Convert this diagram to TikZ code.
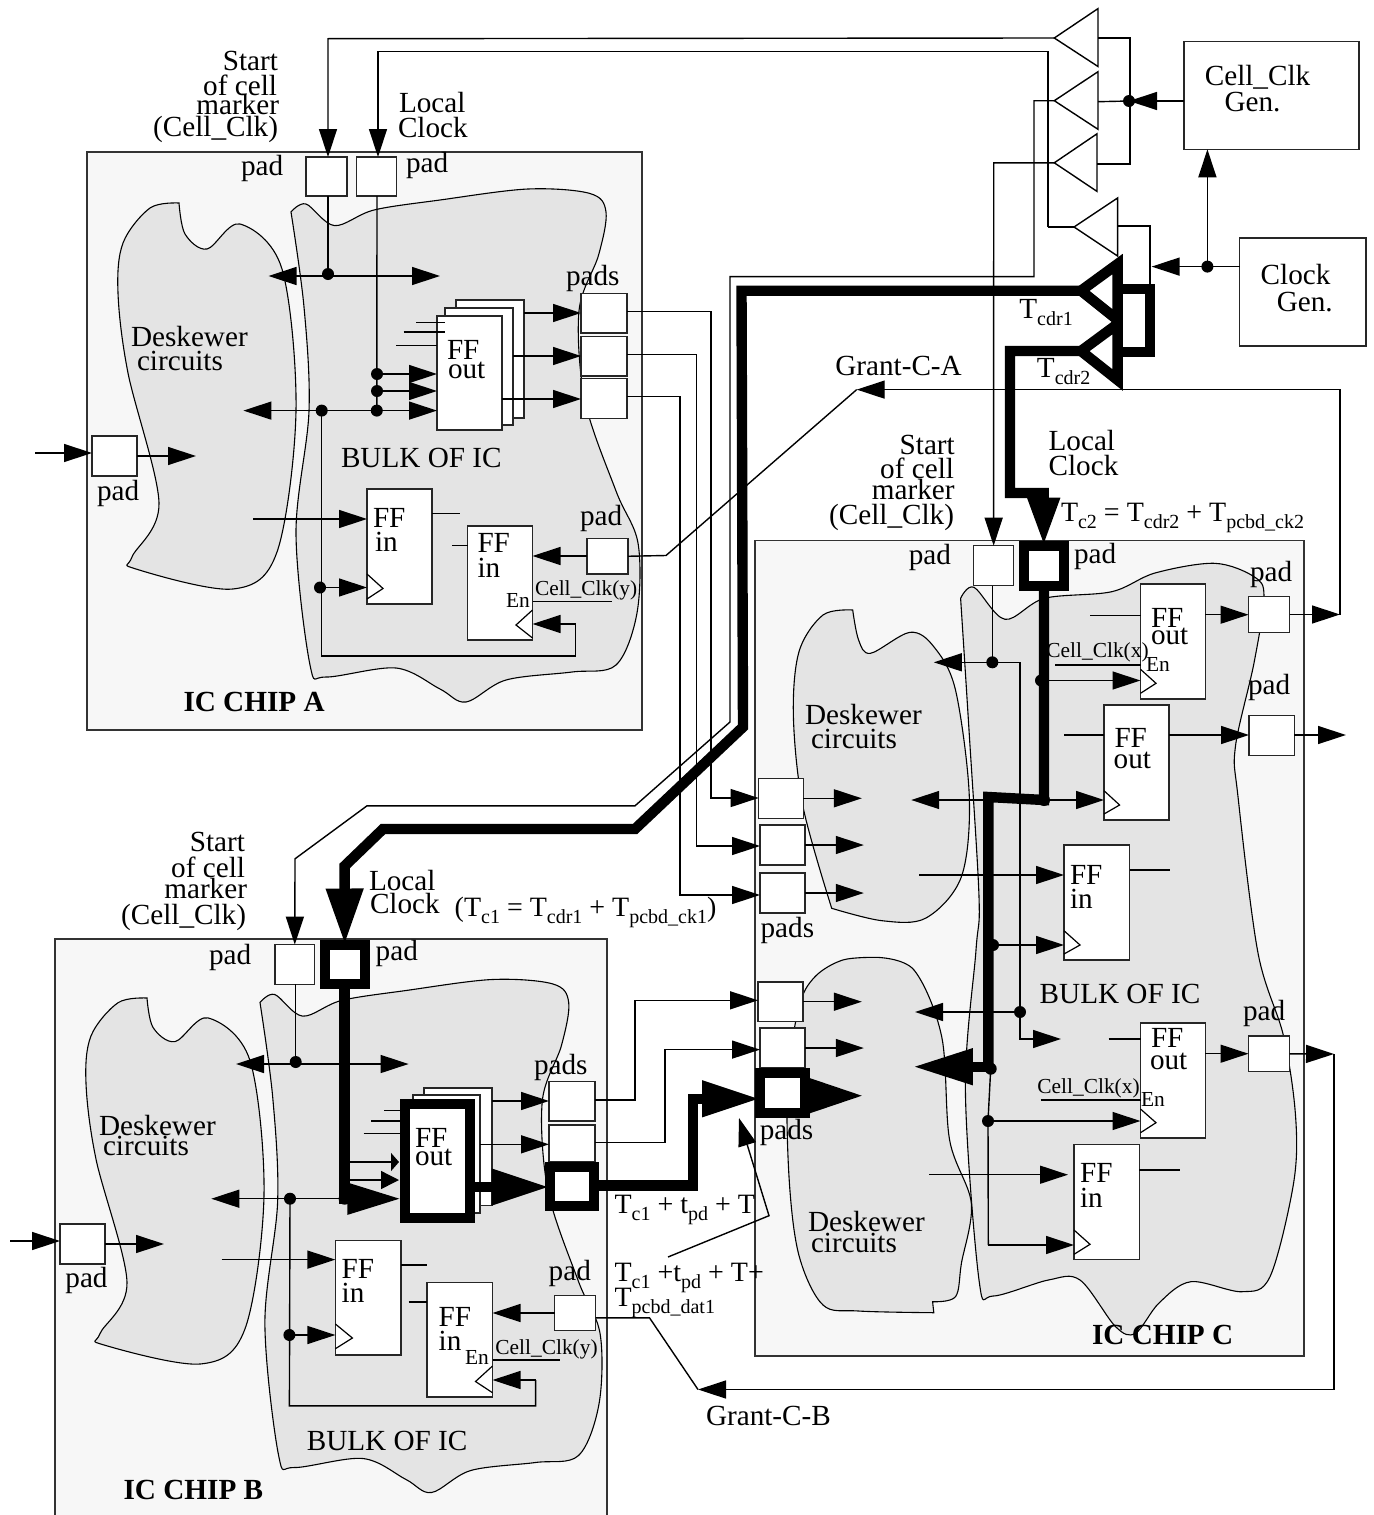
\documentclass[tikz,border=0pt]{standalone}
\usepackage{fontspec}
\setmainfont{Liberation Serif}
\usetikzlibrary{arrows.meta}
\definecolor{chipfill}{HTML}{F7F7F7}
\definecolor{blobfill}{HTML}{E4E4E4}
\newcommand\sbs[1]{\raisebox{-3.5pt}{\fontsize{10}{10}\selectfont #1}}
\newcommand\bx[6][boxst]{%
  \pgfmathsetmacro{\bw}{(#5-#3)*.5}\pgfmathsetmacro{\bh}{(#6-#4)*.5}%
  \node[#1,minimum width=\bw pt,minimum height=\bh pt] (#2) at ({(#3+#5)/2},{(#4+#6)/2}) {};}
\newcount\tcnt
\newcommand\lb[4]{\global\advance\tcnt 1 \node[txt,anchor=#1] (t\the\tcnt) at (#2,#3) {#4};}
\newcommand\lf[4]{\global\advance\tcnt 1 \node[txtf,anchor=#1] (t\the\tcnt) at (#2,#3) {#4};}
\newcommand\ls[4]{\global\advance\tcnt 1 \node[txts,anchor=#1] (t\the\tcnt) at (#2,#3) {#4};}
\newcommand\dt[3]{\node[dotst] (#1) at (#2,#3) {};}
\newcommand\cc[3]{\coordinate (#1) at (#2,#3);}
\newcommand\deskA{\draw[blob] plot[smooth,tension=.55] coordinates {(179,203)(150,208)(123,243)(118,293)(128,373)(159,503)(132,557)(136,569)(233,589)(277,552)(296,411)(282,269)(240,224)(207,249)(185,234)(179,203)} -- cycle;}
\newcommand\bulkA{\draw[blob] plot[smooth,tension=.55] coordinates {(291,212)(306,204)(334.5,225.6)(374,210)(440,200)(528,189)(590,193.5)(606,212)(598.6,255)(579,311)(585,401)(616,491)(638,543)(637,613)(616,665)(572,672)(506,680)(466,702)(440,689)(396,668)(326,677)(310,665)(296,533)(309,411)(304,307)(291,212)} -- cycle;}
\tikzset{
  chip/.style={fill=chipfill,draw=black!80,line width=.7pt},
  blob/.style={fill=blobfill,draw=black,line width=.55pt},
  boxst/.style={draw=black!85,fill=white,line width=.75pt,inner sep=0pt,outer sep=0pt,rectangle},
  thickbox/.style={boxst,draw=black,line width=5pt},
  dotst/.style={circle,fill=black,inner sep=0pt,minimum size=6pt},
  txt/.style={inner sep=0pt,outer sep=0pt,font=\fontsize{14.6}{15}\selectfont},
  txtf/.style={inner sep=0pt,outer sep=0pt,font=\fontsize{14}{15}\selectfont},
  txts/.style={inner sep=0pt,outer sep=0pt,font=\fontsize{10.7}{11}\selectfont},
  wire/.style={line width=.7pt,draw=black},
  arr/.style={wire,-{Triangle[length=14pt,width=9pt]}},
  darr/.style={wire,{Triangle[length=14pt,width=9pt]}-{Triangle[length=14pt,width=9pt]}},
  fat/.style={line width=5.2pt,draw=black,line join=miter},
  tri/.style={line width=.7pt,draw=black,line join=miter},
  ck/.style={line width=.6pt,draw=black},
}
\begin{document}
\begin{tikzpicture}[x=.5pt,y=-.5pt]
\useasboundingbox (0,0) rectangle (1374,1515);
% chips
\draw[chip] (87,152) rectangle (642,730);
\fill[chipfill] (55,939) rectangle (607,1515);
\draw[wire,draw=black!80] (55,1515) -- (55,939) -- (607,939) -- (607,1515);
\draw[chip] (755,540.7) rectangle (1304,1356);
% blobs
\deskA \bulkA
\begin{scope}[shift={(-32,998)},yscale=.948,shift={(0,-203)}]\deskA\end{scope}
\begin{scope}[shift={(260,1002.5)},xscale=.98,shift={(-291,-212)}]\bulkA\end{scope}
\draw[blob] plot[smooth,tension=.55] coordinates {(960.6,598.3)(974,587.3)(1005,619.3)(1044.5,598.3)(1111.7,591.7)(1155,573)(1214.5,563.3)(1254,576.7)(1264,596.7)(1254,663)(1235.4,746.7)(1238,796.7)(1258,953)(1283.7,1036.7)(1295.6,1116.7)(1293.6,1183)(1270,1276.7)(1242,1291.7)(1190.8,1281.7)(1159,1303)(1135.4,1333.3)(1115.6,1326.7)(1080,1280)(1048.4,1280)(993,1296)(979,1280)(965.4,1090)(976,950)(979,896.7)(969,730)(960.6,598.3)} -- cycle;
\draw[blob] plot[smooth,tension=.55] coordinates {(852.7,610)(823,615)(799,651.7)(793.4,716.7)(803,806.7)(831.7,908.3)} -- plot[smooth,tension=.55] coordinates {(831.7,908.3)(882,920.7)(926,918)(961.4,876.7)(969.3,796.7)(955.5,690)(933.8,646.7)(910,632.3)(870.5,653.3)(858.6,640)(852.7,610)} -- cycle;
\draw[blob] plot[smooth,tension=.55] coordinates {(876.4,957.3)(842.8,960)(815,976.7)(799,1006.7)(787.5,1083)(789.4,1183)(799.3,1256.7)(823,1305)(858.6,1311)(933.8,1312.7)} -- (932.6,1301.7) -- plot[smooth,tension=.55] coordinates {(932.6,1301.7)(955.5,1296.7)(961.4,1263.3)(971.3,1203.3)(949.6,1140)(941.7,1036.7)(914,970)(876.4,957.3)} -- cycle;

% ---------- boxes: generators
\bx{cellgen}{1184}{41.4}{1359}{149.3}
\bx{clockgen}{1239.7}{238}{1366}{346}
% ---------- chip A nodes
\bx{paA1}{306}{157}{347}{196}
\bx{paA2}{356.5}{157}{396.5}{196}
\bx{paR1}{581}{293.5}{627}{333}
\bx{paR2}{581}{336.5}{627}{376}
\bx{paR3}{581}{378.5}{627}{418.6}
\bx{paL}{92}{436}{137}{476}
\bx{paB}{587}{538.5}{628}{574}
\bx{ffA3}{456}{300}{524}{418}
\bx{ffA2}{445}{308}{513}{425}
\bx{ffA1}{437}{316}{502}{430}
\bx{ffAi}{367}{489}{432}{604}
\bx{ffAj}{467.5}{526}{532.5}{640}
% ---------- chip B nodes
\bx{pbA1}{275}{944.6}{314.6}{984.4}
\bx[thickbox]{pbA2}{325}{944.5}{364.5}{983.5}
\bx{pbR1}{549}{1081.5}{595}{1121}
\bx{pbR2}{549}{1125}{595}{1162}
\bx{pbL}{60}{1224}{105}{1264}
\bx{pbB}{554.5}{1295.7}{595.7}{1330.4}
\bx{ffB3}{424}{1088}{492}{1205.7}
\bx{ffB2}{413}{1095}{480}{1213}
\bx[thickbox]{ffB1}{404.5}{1104}{469.5}{1218}
\bx[thickbox]{pbR3}{549.5}{1166.7}{594}{1206}
\bx{ffBi}{335.4}{1240.4}{401}{1355}
\bx{ffBj}{427}{1282.6}{492.5}{1397}
% ---------- chip C nodes
\bx{pcA1}{973.7}{545.7}{1013.6}{585.7}
\bx[thickbox]{pcA2}{1023.7}{545.7}{1063.8}{585.8}
\bx{pcO1}{1248.5}{596.7}{1289.6}{632.3}
\bx{pcO2}{1249}{715.3}{1294.4}{755.3}
\bx{pcO3}{1248.5}{1036}{1289.6}{1071.7}
\bx{pcI1}{758.6}{778.7}{803.3}{818.7}
\bx{pcI2}{760}{825}{805}{865}
\bx{pcI3}{760}{873}{805}{913}
\bx{pcI4}{758}{982}{803}{1021.7}
\bx{pcI5}{760}{1028}{805}{1068}
\bx[thickbox]{pcI6}{760}{1072.7}{805}{1112.7}
\bx{ffC1}{1140.5}{584}{1205.4}{699}
\bx{ffC2}{1104}{705}{1169}{820}
\bx{ffC3}{1064}{845}{1129.5}{960}
\bx{ffC4}{1140.5}{1023}{1205.4}{1138}
\bx{ffC5}{1074}{1144.7}{1139.4}{1259.7}
% ---------- dots
\dt{dA1}{328}{274}\dt{dA2}{377}{374}\dt{dA3}{377}{391}\dt{dA4}{376.8}{410.6}\dt{dA5}{321.7}{410.6}\dt{dA6}{320}{587.5}
\dt{dB1}{295.7}{1062}\dt{dB2}{290}{1198.7}\dt{dB3}{289.4}{1335}\dt{dB4}{344.6}{1198.7}
\dt{dC1}{992.3}{662.3}\dt{dC2}{1041}{680.5}\dt{dC3}{1044}{800}\dt{dC4}{993}{945}\dt{dC5}{1020}{1012}\dt{dC6}{990.7}{1068.7}\dt{dC7}{988}{1121}
\dt{dG1}{1129}{101}\dt{dG2}{1207.4}{266.6}
% ---------- triangles
\cc{t1}{1054.3}{38}\cc{t2}{1054.3}{100.7}\cc{t3}{1054.3}{162.8}\cc{t4}{1074}{227}
\cc{tT1}{1081}{290.7}\cc{tT2}{1081}{351}
\draw[tri] (t1) -- (1098,8.6) -- (1098,66.5) -- cycle;
\draw[tri] (t2) -- (1098,71.7) -- (1098,129.3) -- cycle;
\draw[tri] (t3) -- (1097,133.8) -- (1097,191.4) -- cycle;
\draw[tri] (t4) -- (1117.6,198) -- (1117.6,256) -- cycle;
\draw[fat] (tT1) -- (1117.6,264) -- (1117.6,320) -- cycle;
\draw[fat] (tT2) -- (1117.6,324) -- (1117.6,380) -- cycle;
% clock distribution
\draw[wire] (1098,38) -- (1130,38) -- (1130,164) -- (1097,164);
\draw[wire] (1098,101.7) -- (dG1.center);
\draw[arr] (cellgen.west |- dG1) -- (dG1.center);
\draw[arr] (clockgen.west |- dG2) -- (1151.6,266.6) coordinate (rail);
\draw[arr] (dG2.center) -- (dG2 |- cellgen.south);
\draw[wire] (1117.6,226) -- (1150,226) -- (1150,289);
\draw[fat,line cap=square] (1122,289) -- (1150,289) -- (1150,352) -- (1122,352);
% long feeders
\draw[arr] (t1) -- (328,38.7) -- (328,157 -| dA1);
\draw[arr] (1047.8,227) -- (1047.8,51.7) -- (378,51.7) -- (378,157);
\draw[wire] (t4) -- (1047.8,227);
\draw[arr] (t2) -- (1034,100.7) -- (1034,276.6) -- (730,276.6) -- (730,722) -- (635,805.8) -- (367,805.8) -- (295,858.8) -- (pbA1.north);
\draw[arr] (t3) -- (993.7,162.8) -- (pcA1.north);
\draw[fat,-{Triangle[length=28pt,width=17.5pt]}] (tT1) -- (741.5,290.7) -- (743,727) -- (635,829) -- (383,829) -- (344.6,866) -- (pbA2.north);
\draw[fat,-{Triangle[length=24pt,width=15pt]}] (tT2) -- (1010,351) -- (1010,493) -- (1043.7,493) -- (pcA2.north);
% grants
\cc{gca}{856.7}{389.6}\cc{gcb}{698}{1389.5}
\draw[arr] (pcO1.east) -- (1340,614.5);
\draw[arr] (1340,614.5) -- (1340,389.6) -- (gca);
\draw[wire] (gca) -- (666,555.5) -- (paB.east);
\draw[arr] (pcO3.east) -- (1334,1054);
\draw[arr] (1334,1054) -- (1334,1389.5) -- (gcb);
\draw[wire] (gcb) -- (649.5,1317.8) -- (pbB.east |- 0,1317.8);
% chip A wires
\draw[wire] (paA1.south -| dA1) -- (dA1.center);
\cc{aX1}{268.5}{276}\cc{aX2}{440}{276}\draw[darr] (aX1) -- (aX2);
\draw[wire] (paA2.south -| dA2) -- (dA4.center);
\draw[arr] (dA2.center) -- (ffA1.west |- dA2);
\draw[arr] (dA3.center) -- (ffA1.west |- dA3);
\cc{aX3}{243.4}{410.6}\draw[darr] (aX3) -- (ffA1.west |- aX3);
\draw[wire] (dA5.center) -- (321.7,656) -- (575.7,656) -- (575.7,624);
\draw[arr] (575.7,624) -- (ffAj.east |- 0,624);
\draw[arr] (dA6.center) -- (ffAi.west |- dA6);
\cc{aS1}{416}{322.3}\cc{aS2}{403.6}{332}\cc{aS3}{396}{345.4}
\draw[wire] (aS1) -- (ffA2.west |- aS1);\draw[wire] (aS2) -- (ffA2.west |- aS2);\draw[wire] (aS3) -- (ffA1.west |- aS3);
\draw[arr] (ffA3.east |- 0,313) -- (paR1.west |- 0,313);
\draw[arr] (ffA2.east |- 0,356) -- (paR2.west |- 0,356);
\draw[arr] (ffA1.east |- 0,399) -- (paR3.west |- 0,399);
\draw[arr] (paR1.east |- 0,311.5) -- (711,311.5) -- (711,798) -- (pcI1.west |- 0,798);
\draw[arr] (paR2.east |- 0,354.5) -- (696.5,354.5) -- (696.5,846) -- (pcI2.west |- 0,846);
\draw[arr] (paR3.east |- 0,396.5) -- (680,396.5) -- (680,895) -- (pcI3.west |- 0,895);
\cc{aI}{35}{453}\cc{aO}{196}{456}
\draw[arr] (aI) -- (paL.west |- aI);
\draw[arr] (paL.east |- aO) -- (aO);
\draw[arr] (paB.west |- 0,556) -- (ffAj.east |- 0,556);
\cc{aF}{253}{519}\draw[arr] (aF) -- (ffAi.west |- aF);
\cc{aG}{460}{513.5}\draw[wire] (ffAi.east |- aG) -- (aG);
\cc{aH}{452}{545.5}\draw[wire] (aH) -- (ffAj.west |- aH);
\draw[ck] (367,574) -- (383,588.5) -- (367,599);
\draw[ck] (532.5,610) -- (516,625) -- (532.5,638);
\cc{aU}{612}{601.7}\draw[wire] (ffAj.east |- aU) -- (aU);
% chip B wires
\draw[wire] (pbA1.south -| dB1) -- (dB1.center);
\cc{bX1}{236}{1064}\cc{bX2}{408.6}{1064}\draw[darr] (bX1) -- (bX2);
\draw[fat] (pbA2.south -| dB4) -- (344.6,1204);
\draw[wire,-{Triangle[length=4pt,width=9pt]}] (344.6,1162) -- (399,1162);
\draw[wire,-{Triangle[length=9pt,width=9pt]}] (344.6,1180) -- (399,1180);
\cc{bX3}{211.3}{1198.7}\draw[arr] (dB4.center) -- (bX3);
\draw[wire,-{Triangle[length=26pt,width=16pt]}] (dB4.center) -- (399.4,1198.7);
\draw[wire] (dB2.center) -- (289.4,1405.9) -- (535.6,1405.9) -- (535.6,1380);
\draw[arr] (535.6,1380) -- (ffBj.east |- 0,1380);
\draw[arr] (dB3.center) -- (ffBi.west |- dB3);
\cc{bS1}{384.4}{1110.5}\cc{bS2}{371.3}{1120.8}\cc{bS3}{363.5}{1133.5}
\draw[wire] (bS1) -- (ffB1.west |- bS1);\draw[wire] (bS2) -- (ffB1.west |- bS2);\draw[wire] (bS3) -- (ffB1.west |- bS3);
\draw[arr] (ffB3.east |- 0,1101) -- (pbR1.west |- 0,1101);
\draw[arr] (ffB2.east |- 0,1144.3) -- (pbR2.west |- 0,1144.3);
\draw[fat,-{Triangle[length=29pt,width=17pt]}] (ffB1.east |- 0,1187) -- (pbR3.west |- 0,1187);
\draw[arr] (pbR1.east |- 0,1100) -- (635,1100) -- (635,1000.3) -- (pcI4.west |- 0,1000.3);
\draw[arr] (pbR2.east |- 0,1142.4) -- (665,1142.4) -- (665,1049.6) -- (pcI5.west |- 0,1049.6);
\draw[fat,-{Triangle[length=29pt,width=17pt]}] (pbR3.east |- 0,1185.5) -- (693,1185.5) -- (693,1098.8) -- (pcI6.west |- 0,1098.8);
\cc{bI}{10}{1241}\cc{bO}{164}{1244}
\draw[arr] (bI) -- (pbL.west |- bI);
\draw[arr] (pbL.east |- bO) -- (bO);
\draw[arr] (pbB.west |- 0,1313) -- (ffBj.east |- 0,1313);
\cc{bF}{221.5}{1259.6}\draw[arr] (bF) -- (ffBi.west |- bF);
\cc{bG}{426.6}{1265}\draw[wire] (ffBi.east |- bG) -- (bG);
\cc{bH}{408.6}{1302}\draw[wire] (bH) -- (ffBj.west |- bH);
\draw[ck] (335.4,1324) -- (352.4,1338) -- (335.4,1348.7);
\draw[ck] (492.5,1366) -- (475.5,1381.5) -- (492.5,1392.7);
\cc{bU}{560.4}{1360}\draw[wire] (ffBj.east |- bU) -- (bU);
\cc{pS}{668}{1257}\cc{pT}{739}{1118}
\draw[arr] (pS) -- (769,1215.7) -- (pT);
% chip C wires
\draw[wire] (pcA1.south -| dC1) -- (dC1.center);
\cc{cX1}{933.8}{662.3}\draw[arr] (dC1.center) -- (cX1);
\draw[wire] (dC1.center) -- (1020,662.3) -- (dC5.center);
\cc{cX2}{915}{1012}\draw[arr] (dC5.center) -- (cX2);
\cc{cX3}{1061}{1039}\draw[arr] (dC5.center) -- (1020,1039) -- (cX3);
\draw[arr] (dC2.center) -- (ffC1.west |- dC2);
\cc{cX4}{911.2}{800}\draw[darr] (cX4) -- (ffC2.west |- cX4);
\draw[arr] (dC4.center) -- (ffC3.west |- dC4);
\draw[fat] (pcA2.south -| dC3) -- (dC3.center) -- (988.3,797) -- (988.3,1066.7) -- (dC6.center);
\cc{cX5}{912.8}{1066.7}\draw[fat,-{Triangle[length=30pt,width=17pt]}] (990,1066.7) -- (cX5);
\draw[wire] (dC6.center) -- (dC7.center) -- (988.3,1245);
\draw[arr] (988.3,1245) -- (ffC5.west |- 0,1245);
\draw[arr] (dC7.center) -- (ffC4.west |- dC7);
\cc{cF}{919}{875}\draw[arr] (cF) -- (ffC3.west |- cF);
\cc{cG}{1170}{870}\draw[wire] (ffC3.east |- cG) -- (cG);
\cc{cH1}{1090}{615.7}\draw[wire] (cH1) -- (ffC1.west |- cH1);
\draw[arr] (ffC1.east |- 0,614.7) -- (pcO1.west |- 0,614.7);
\cc{cH2}{1064}{735}\draw[wire] (cH2) -- (ffC2.west |- cH2);
\draw[arr] (ffC2.east |- cH2) -- (pcO2.west |- cH2);
\cc{cO2}{1346}{735}\draw[arr] (pcO2.east |- cO2) -- (cO2);
\cc{cH4}{1108.5}{1039}\draw[wire] (cH4) -- (ffC4.west |- cH4);
\draw[arr] (ffC4.east |- 0,1053.7) -- (pcO3.west |- 0,1053.7);
\cc{cF5}{929}{1174.7}\draw[arr] (cF5) -- (1068,1174.7);
\cc{cG5}{1180}{1170}\draw[wire] (ffC5.east |- cG5) -- (cG5);
\cc{i1}{861.8}{798.3}\cc{i2}{863.8}{845}\cc{i3}{863.8}{893}\cc{i4}{861.8}{1001.7}\cc{i5}{863.8}{1048}\cc{i6}{863.8}{1095.7}
\draw[arr] (pcI1.east |- i1) -- (i1);
\draw[arr] (pcI2.east |- i2) -- (i2);
\draw[arr] (pcI3.east |- i3) -- (i3);
\draw[arr] (pcI4.east |- i4) -- (i4);
\draw[arr] (pcI5.east |- i5) -- (i5);
\draw[wire,line width=5pt,-{Triangle[length=27pt,width=16pt]}] (pcI6.east |- i6) -- (i6);
\draw[ck] (1140.5,669.3) -- (1156,683.3) -- (1140.5,693.3);
\draw[ck] (1104,790.7) -- (1119.6,805) -- (1104,814);
\draw[ck] (1064,930.7) -- (1080,945) -- (1064,954);
\draw[ck] (1140.5,1109) -- (1156,1122.7) -- (1140.5,1132.7);
\draw[ck] (1074,1230) -- (1090,1244.3) -- (1074,1254.3);
\cc{cU1}{1055}{665}\draw[wire] (cU1) -- (ffC1.west |- cU1);
\cc{cU2}{1040.5}{1100}\draw[wire] (cU2) -- (ffC4.west |- cU2);
% ---------- labels: chip A
\lb{east}{278}{61}{Start}\lb{east}{277}{85}{of cell}\lb{east}{279}{105}{marker}\lb{east}{278}{129}{(Cell\_Clk)}
\lb{west}{399}{103}{Local}\lb{west}{398}{128}{Clock}
\lb{west}{241}{168}{pad}\lb{west}{406}{165}{pad}\lb{west}{566}{278}{pads}
\lb{west}{131}{337}{Deskewer}\lb{west}{137}{361}{circuits}
\lb{west}{447}{350}{FF}\lb{west}{448}{370}{out}
\lb{west}{341}{458}{BULK OF IC}\lb{west}{97}{493}{pad}
\lb{west}{373}{518}{FF}\lb{west}{375}{542}{in}\lb{west}{477.5}{543}{FF}\lb{west}{477.5}{568}{in}
\lb{west}{580}{518}{pad}
\ls{west}{535}{590}{Cell\_Clk(y)}\ls{west}{506}{600}{En}
\lb{west}{183.5}{702}{\bfseries IC CHIP A}
% labels: top right
\lb{west}{1204.8}{77.6}{Cell\_Clk}\lb{west}{1224.5}{101.7}{Gen.}
\lb{west}{1260.7}{275}{Clock}\lb{west}{1276.8}{301.7}{Gen.}
\lb{west}{1019.4}{313}{T\sbs{cdr1}}\lb{west}{1036.9}{372}{T\sbs{cdr2}}
\lb{west}{835.3}{366}{Grant-C-A}
\lb{east}{954.8}{444.8}{Start}\lb{east}{954}{468}{of cell}\lb{east}{954.6}{489.7}{marker}\lb{east}{954}{517}{(Cell\_Clk)}
\lb{west}{1048.6}{441}{Local}\lb{west}{1048.6}{465.5}{Clock}
\lf{west}{1061}{518}{T\sbs{c2} = T\sbs{cdr2} + T\sbs{pcbd\_ck2}}
% labels: chip C
\lb{west}{908.8}{557.7}{pad}\lb{west}{1074}{556}{pad}\lb{west}{1250}{574}{pad}\lb{west}{1248}{687}{pad}
\lb{west}{805}{715}{Deskewer}\lb{west}{811}{739}{circuits}
\lb{west}{1151}{617.7}{FF}\lb{west}{1151}{636}{out}
\lb{west}{1114.5}{738}{FF}\lb{west}{1113.7}{760}{out}
\lb{west}{1070}{875}{FF}\lb{west}{1070}{899}{in}
\lb{west}{760.6}{930}{pads}
\lb{west}{1039.7}{994}{BULK OF IC}\lb{west}{1243}{1013}{pad}
\lb{west}{1151}{1038}{FF}\lb{west}{1150}{1061}{out}
\ls{west}{1037.4}{1088}{Cell\_Clk(x)}\ls{west}{1141}{1099}{En}
\ls{west}{1046.4}{652.7}{Cell\_Clk(x)}\ls{west}{1146}{664.3}{En}
\lb{west}{1080}{1173}{FF}\lb{west}{1080}{1198}{in}
\lb{west}{808}{1221.7}{Deskewer}\lb{west}{811}{1242.7}{circuits}
\lb{west}{759.8}{1132.7}{pads}
\lb{west}{1092}{1335}{\bfseries IC CHIP C}
% labels: chip B
\lb{east}{245}{842}{Start}\lb{east}{245}{867}{of cell}\lb{east}{247}{889}{marker}\lb{east}{246}{917}{(Cell\_Clk)}
\lb{west}{369}{881}{Local}\lb{west}{370}{904}{Clock}
\lf{west}{454.7}{912}{(T\sbs{c1} = T\sbs{cdr1} + T\sbs{pcbd\_ck1})}
\lb{west}{209}{957}{pad}\lb{west}{375.7}{953.5}{pad}\lb{west}{534}{1067}{pads}
\lb{west}{99}{1125.5}{Deskewer}\lb{west}{103}{1145.7}{circuits}
\lb{west}{415}{1137.7}{FF}\lb{west}{415}{1157}{out}
\lb{west}{65.4}{1280.7}{pad}
\lb{west}{341.7}{1269}{FF}\lb{west}{341.7}{1293}{in}
\lb{west}{438.7}{1316.8}{FF}\lb{west}{438.7}{1341}{in}
\ls{west}{465}{1357.6}{En}\ls{west}{495.4}{1349.6}{Cell\_Clk(y)}
\lb{west}{548.7}{1273}{pad}
\lf{west}{614.6}{1210}{T\sbs{c1} + t\sbs{pd} + T}
\lf{west}{614.6}{1278}{T\sbs{c1} +t\sbs{pd} + T+}
\lf{west}{614.6}{1303}{T\sbs{pcbd\_dat1}}
\lb{west}{706}{1416}{Grant-C-B}
\lb{west}{306.8}{1441}{BULK OF IC}
\lb{west}{123.6}{1490}{\bfseries IC CHIP B}
\end{tikzpicture}
\end{document}
